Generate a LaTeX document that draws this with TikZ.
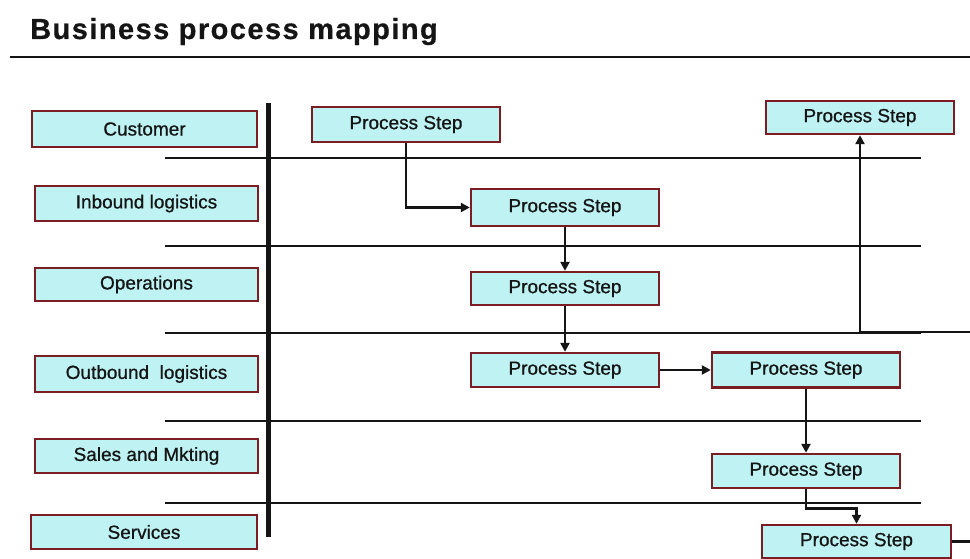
\documentclass[tikz,border=0pt]{standalone}
\usepackage{fontspec}
\setmainfont{Liberation Sans}
\usetikzlibrary{arrows.meta}
\definecolor{boxfill}{HTML}{BFF3F3}
\definecolor{boxedge}{HTML}{7A1E24}
\definecolor{inkc}{HTML}{151515}
\tikzset{
  lanebox/.style={draw=boxedge, fill=boxfill, line width=2.4pt, inner sep=0pt,
    text=inkc, font=\fontsize{19}{22}\selectfont\addfontfeature{FakeBold=0.8}},
  stepbox/.style={lanebox, minimum width=188pt},
  laneline/.style={draw=inkc, line width=2.2pt},
  flow/.style={draw=inkc, line width=2.6pt, -{Triangle[length=9pt,width=9pt]}},
  plainflow/.style={draw=inkc, line width=2.6pt}
}
\begin{document}
\begin{tikzpicture}[x=1pt,y=-1pt]
\useasboundingbox (0,0) rectangle (970,559);
\fill[white] (0,0) rectangle (970,559);

% title and rule
\node[anchor=base west, inner sep=0pt, text=inkc,
  font=\fontsize{29}{32}\selectfont\bfseries\addfontfeature{LetterSpace=5,FakeBold=0.6}]
  (title) at (30,39) {Business process mapping};
\draw[draw=inkc, line width=2.6pt] (10,57) -- (970,57);

% lane dividers and the spine
\foreach \yy in {158,246,333,421,503}
  \draw[laneline] (165,\yy) -- (921,\yy);
\draw[draw=inkc, line width=5pt] (268,103) -- (268,537);

% lane labels
\node[lanebox, minimum width=225pt, minimum height=36pt] (customer) at (144.5,129) {Customer};
\node[lanebox, minimum width=223pt, minimum height=35pt] (inbound) at (146.5,203.5) {Inbound logistics};
\node[lanebox, minimum width=223pt, minimum height=33pt] (operations) at (146.5,284.5) {Operations};
\node[lanebox, minimum width=223pt, minimum height=36pt] (outbound) at (146.5,374) {Outbound\ \ logistics};
\node[lanebox, minimum width=223pt, minimum height=34pt] (sales) at (146.5,456) {Sales and Mkting};
\node[lanebox, minimum width=226pt, minimum height=34pt] (services) at (144,532) {Services};

% process steps
\node[stepbox, minimum height=35pt] (ps1) at (406,124.5) {Process Step};
\node[stepbox, minimum height=37pt] (ps2) at (565,207.5) {Process Step};
\node[stepbox, minimum height=33pt] (ps3) at (565,288.5) {Process Step};
\node[stepbox, minimum height=34pt] (ps4) at (565,370) {Process Step};
\node[stepbox, minimum height=35pt] (ps5) at (806,370) {Process Step};
\node[stepbox, minimum height=34pt] (ps6) at (806,471) {Process Step};
\node[stepbox, minimum height=33pt, minimum width=189pt] (ps7) at (856.5,541.5) {Process Step};
\node[stepbox, minimum height=33pt] (ps8) at (860,117.5) {Process Step};

% loose ends at the right margin
\coordinate (exitR) at (970,541.5);
\coordinate (entR) at (970,332);

% flow
\draw[flow] (ps1.south) |- (ps2.west);
\draw[flow] (ps2.south) -- (ps3.north);
\draw[flow] (ps3.south) -- (ps4.north);
\draw[flow] (ps4.east) -- (ps5.west);
\draw[flow] (ps5.south) -- (ps6.north);
\draw[flow] (ps6.south) -- ++(0,19) -| (ps7.north);
\draw[plainflow] (ps7.east) -- (exitR);
\draw[flow] (entR) -| (ps8.south);
\end{tikzpicture}
\end{document}
